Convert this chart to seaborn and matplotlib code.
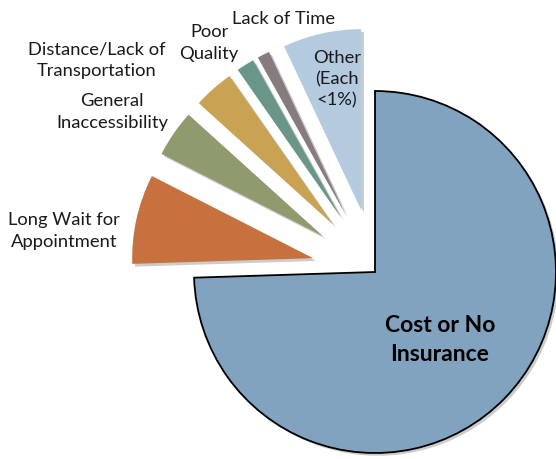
import matplotlib
matplotlib.use("Agg")
import matplotlib.pyplot as plt
import matplotlib.patheffects as pe
import seaborn as sns

# ---- data (counter-clockwise from 12 o'clock) ----
categories = ["Other (Each <1%)", "Lack of Time", "Poor Quality",
              "Distance/Lack of Transportation", "General Inaccessibility",
              "Long Wait for Appointment", "Cost or No Insurance"]
values = [7.0, 1.1, 1.6, 3.6, 4.2, 8.0, 74.5]
label_texts = ["Other\n(Each\n<1%)", "Lack of Time", "Poor\nQuality",
               "Distance/Lack of\nTransportation", "General\nInaccessibility",
               "Long Wait for\nAppointment", "Cost or No\nInsurance"]

# ---- style ----
colors = ["#B3CADF", "#867C7D", "#6A968A", "#C9A253", "#8F9A6F", "#C7723E", "#81A3BF"]
explode = [0.35, 0.35, 0.35, 0.35, 0.35, 0.35, 0.0]
# label centres in figure pixels (from top-left)
label_pos = [(337, 79), (284, 19), (209, 43), (97, 60), (112, 112), (64, 231), (440, 340)]

sns.set_theme(style="white")
plt.rcParams['font.family'] = ['Lato', 'DejaVu Sans']

W, H = 556, 460
fig = plt.figure(figsize=(W / 100, H / 100), dpi=100)
ax = fig.add_axes([0, 0, 1, 1])

wedges, _ = ax.pie(values, colors=colors, explode=explode, startangle=90,
                   counterclock=True, radius=1.0,
                   wedgeprops=dict(linewidth=0))

R_px = 181.0
cx, cy = 375.0, 273.0
ax.set_aspect('auto')
ax.set_xlim(-cx / R_px, (W - cx) / R_px)
ax.set_ylim(-(H - cy) / R_px, cy / R_px)
ax.axis('off')

for i, w in enumerate(wedges):
    if i == len(wedges) - 1:
        w.set_edgecolor("black")
        w.set_linewidth(1.3)
    w.set_path_effects([pe.SimplePatchShadow(offset=(2, -2), alpha=0.2, shadow_rgbFace="black"),
                        pe.Normal()])

for i, (txt, (px, py)) in enumerate(zip(label_texts, label_pos)):
    big = i == len(label_texts) - 1
    ax.text(px / W, 1 - py / H, txt, transform=fig.transFigure,
            ha='center', va='center', multialignment='center',
            fontsize=16.5 if big else 13.2,
            fontweight='bold' if big else 'normal',
            color='black' if big else '#1a1a1a',
            linespacing=1.45 if big else 1.4)

fig.savefig("out.png", dpi=100)
